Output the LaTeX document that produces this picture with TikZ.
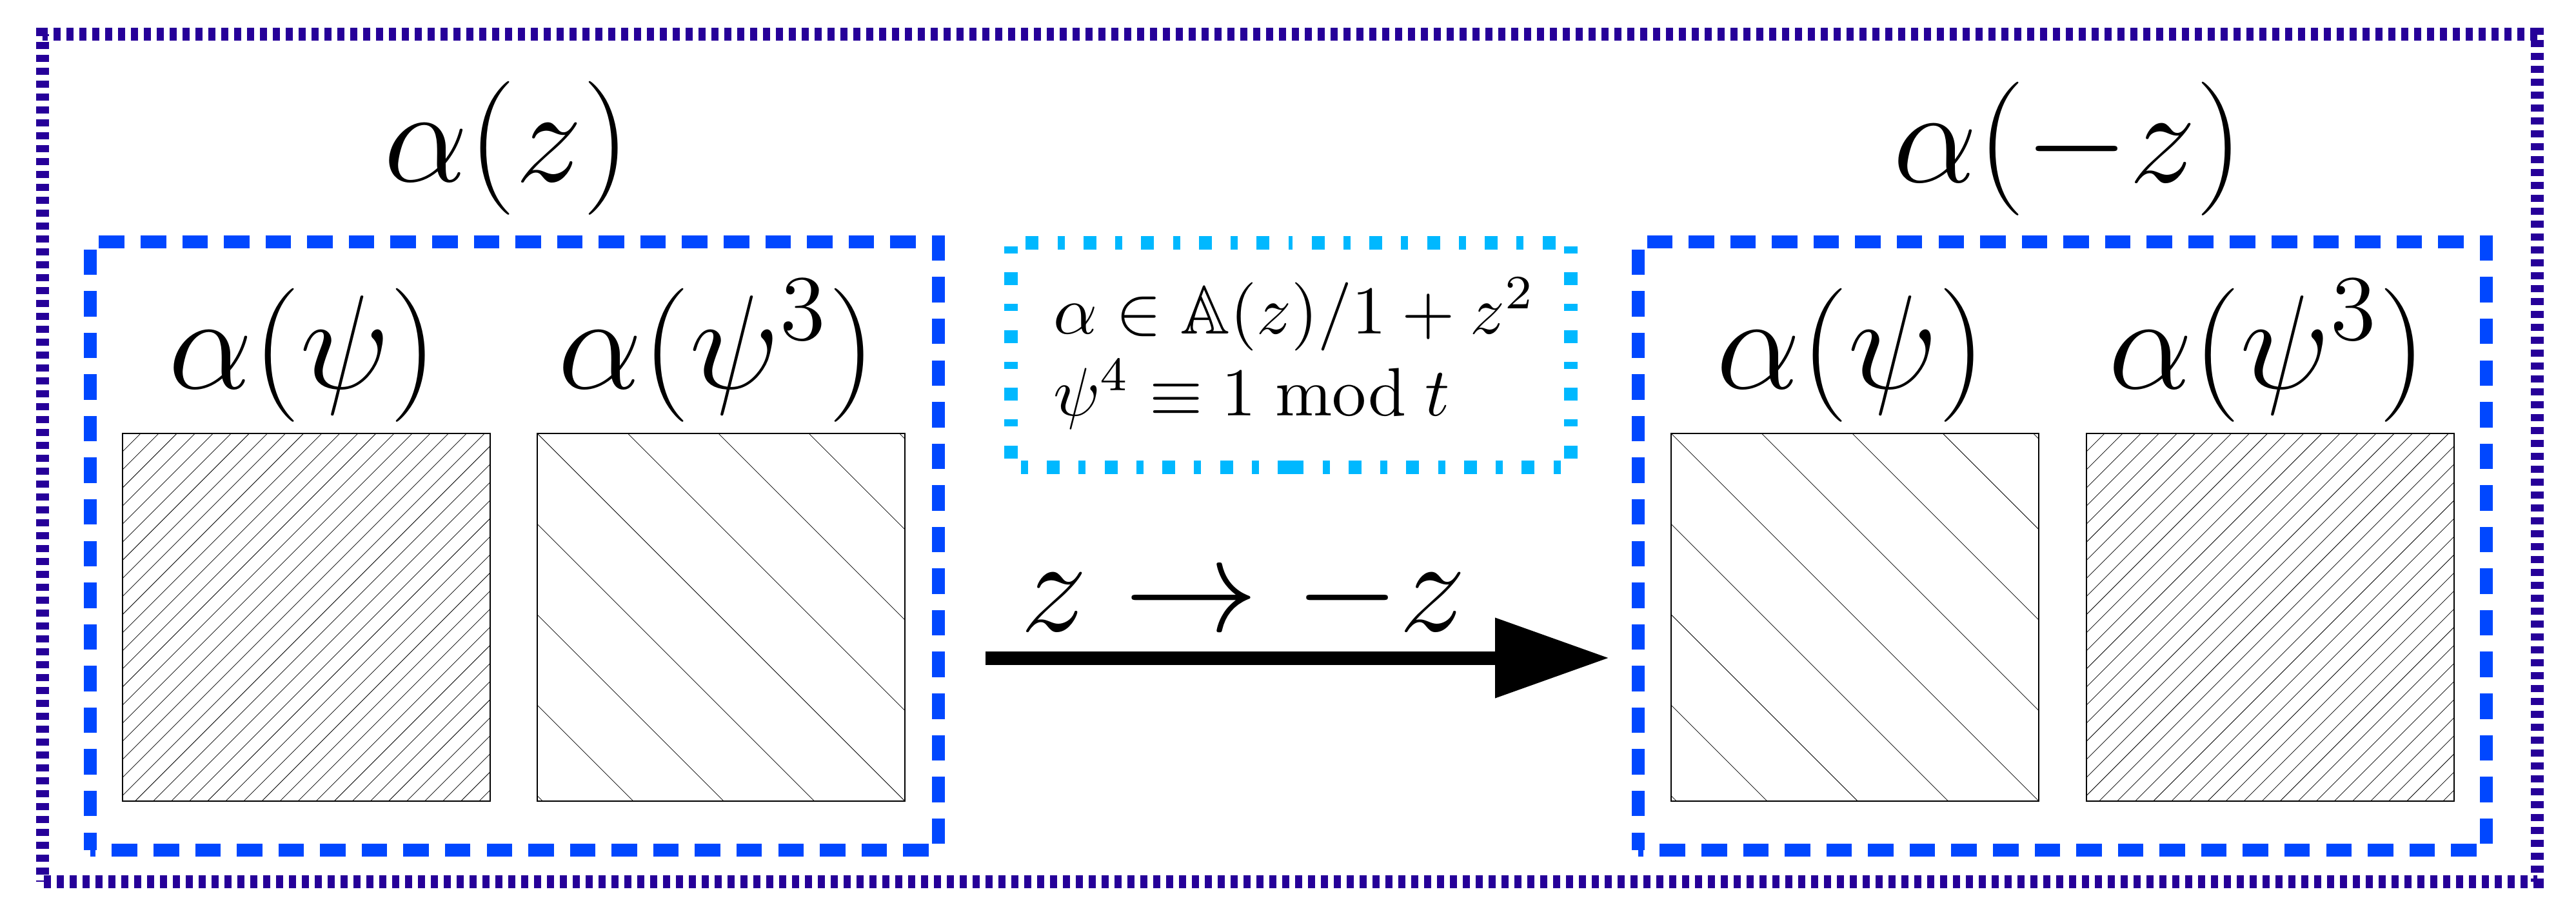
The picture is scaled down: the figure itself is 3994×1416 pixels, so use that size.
\documentclass[tikz,border=0pt]{standalone}
\usepackage{amssymb}
\usetikzlibrary{arrows.meta}
\definecolor{outercol}{RGB}{38,0,153}
\definecolor{boxblue}{RGB}{0,71,255}
\definecolor{boxcyan}{RGB}{0,184,255}
\tikzset{
  biglab/.style={font=\huge, inner sep=0pt, anchor=base},
  smalllab/.style={font=\normalsize, scale=1.06, inner sep=0pt, anchor=base west},
  outerbox/.style={draw=outercol, line width=2pt, dash pattern=on 1.1pt off 0.9pt, dash phase=0.9pt},
  bluebox/.style={draw=boxblue, line width=2pt, dash pattern=on 3.95pt off 2.507pt, dash phase=1.2pt},
  cyanline/.style={draw=boxcyan, line width=2.1pt, dash pattern=on 2pt off 2.95pt on 1.1pt off 2.9pt},
  hatchsquare/.style={draw=black, line width=0.14pt},
  hatchline/.style={draw=black, line width=0.075pt},
  bigarrow/.style={-{Triangle[length=17.7pt,width=11.9pt]}, line width=2.1pt, black}
}
\newcommand{\finehatch}[2]{%
  \begin{scope}
    \clip (#1,#2) rectangle ++(570,570);
    \foreach \d in {0,28.07,...,1141}{\draw[hatchline] ({#1+\d},#2) -- ++(-570,570);}
  \end{scope}
  \draw[hatchsquare] (#1,#2) rectangle ++(570,570);}
\newcommand{\coarsehatch}[2]{%
  \begin{scope}
    \clip (#1,#2) rectangle ++(570,570);
    \foreach \d in {-561.6,-421.2,...,570}{\draw[hatchline] ({#1+\d},#2) -- ++(570,570);}
  \end{scope}
  \draw[hatchsquare] (#1,#2) rectangle ++(570,570);}
\begin{document}
\begin{tikzpicture}[x=0.1pt,y=-0.1pt]
\path[use as bounding box, fill=white] (0,0) rectangle (3994,1416);

% outer dotted frame
\draw[outerbox] (66,1366.5) rectangle (3933.5,52.5);

% blue dashed groups
\draw[bluebox] (140,1318) rectangle (1455,375);
\draw[bluebox] (2540,1318) rectangle (3855,375);

% hatched squares
\finehatch{190}{672}
\coarsehatch{833}{672}
\coarsehatch{2591}{672}
\finehatch{3235}{672}

% labels
\node[biglab] (lz) at (786,281) {$\alpha(z)$};
\node[biglab] (rz) at (3207,282) {$\alpha(-z)$};
\node[biglab] (lpsi) at (470,602) {$\alpha(\psi)$};
\node[biglab] (lpsithree) at (1112,602) {$\alpha(\psi^3)$};
\node[biglab] (rpsi) at (2870,602) {$\alpha(\psi)$};
\node[biglab] (rpsithree) at (3516,602) {$\alpha(\psi^3)$};

% dash-dot info box (drawn as two mirrored halves)
\coordinate (cbm) at (2001,724);
\coordinate (ctm) at (2001,376);
\draw[cyanline] (cbm) -- (1567,724) -- (1567,376) -- (ctm);
\draw[cyanline] (cbm) -- (2435,724) -- (2435,376) -- (ctm);
\node[smalllab] (infoone) at (1631,517) {$\alpha \in \mathbb{A}(z)/1 + z^2$};
\node[smalllab] (infotwo) at (1631,644) {$\psi^4 \equiv 1 \bmod t$};

% arrow
\coordinate (arrowstart) at (1528,1020);
\coordinate (arrowend) at (2495,1020);
\draw[bigarrow] (arrowstart) -- (arrowend);
\node[biglab] (arrowlabel) at (1928,978) {$z \to -z$};
\end{tikzpicture}
\end{document}
